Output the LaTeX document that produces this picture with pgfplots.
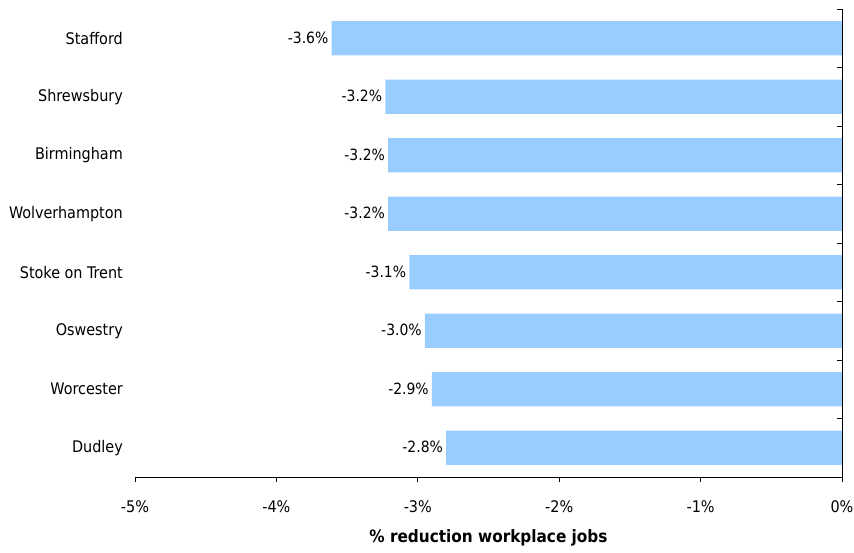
\documentclass[border=0pt]{standalone}
\usepackage{pgfplots}
\pgfplotsset{compat=1.18}
\usepackage{fontspec}
\setmainfont{DejaVu Sans Condensed}
\definecolor{barblue}{HTML}{99CCFF}
\begin{document}
\begin{tikzpicture}[x=1pt,y=1pt]
\useasboundingbox (0,0) rectangle (854,552);
\begin{axis}[
  at={(135pt,75pt)}, anchor=south west,
  scale only axis, width=707pt, height=468pt,
  xbar, bar width=0.583,
  xmin=-5, xmax=0, ymin=-0.5, ymax=7.5,
  y dir=reverse,
  axis x line*=bottom,
  axis y line=none,
  xtick={-5,-4,-3,-2,-1,0},
  xticklabel={\pgfmathprintnumber{\tick}\%},
  /pgf/number format/assume math mode=true,
  x tick style={black, line width=0.8pt},
  tick align=outside,
  major tick length=5pt,
  x axis line style={black, line width=0.8pt},
  xticklabel style={font=\fontsize{16}{18}\selectfont, yshift=-15pt},
  xlabel={\textbf{\% reduction workplace jobs}},
  xlabel style={font=\fontsize{17}{20}\selectfont, yshift=-10pt},
  ytick=\empty,
  clip=false,
  nodes near coords={\pgfmathprintnumber[fixed,precision=1,zerofill]{\pgfplotspointmeta}\%},
  point meta=x,
  nodes near coords style={anchor=east, font=\fontsize{15.5}{18}\selectfont, inner sep=3pt, yshift=0.5pt},
]
\addplot[fill=barblue, draw=none] coordinates {
 (-3.61,0) (-3.23,1) (-3.21,2) (-3.21,3) (-3.06,4) (-2.95,5) (-2.90,6) (-2.80,7)
};
\draw[black, line width=0.8pt] (axis cs:0,-0.5) -- (axis cs:0,7.5);
\pgfplotsinvokeforeach{-0.5,0.5,1.5,2.5,3.5,4.5,5.5,6.5,7.5}{
  \draw[black, line width=0.8pt] (axis cs:0,#1) -- (axis cs:-0.035,#1);
}
\node[anchor=east, font=\fontsize{16}{18}\selectfont, inner sep=0pt, xshift=-12pt] at (axis cs:-5,0) {Stafford};
\node[anchor=east, font=\fontsize{16}{18}\selectfont, inner sep=0pt, xshift=-12pt] at (axis cs:-5,1) {Shrewsbury};
\node[anchor=east, font=\fontsize{16}{18}\selectfont, inner sep=0pt, xshift=-12pt] at (axis cs:-5,2) {Birmingham};
\node[anchor=east, font=\fontsize{16}{18}\selectfont, inner sep=0pt, xshift=-12pt] at (axis cs:-5,3) {Wolverhampton};
\node[anchor=east, font=\fontsize{16}{18}\selectfont, inner sep=0pt, xshift=-12pt] at (axis cs:-5,4) {Stoke on Trent};
\node[anchor=east, font=\fontsize{16}{18}\selectfont, inner sep=0pt, xshift=-12pt] at (axis cs:-5,5) {Oswestry};
\node[anchor=east, font=\fontsize{16}{18}\selectfont, inner sep=0pt, xshift=-12pt] at (axis cs:-5,6) {Worcester};
\node[anchor=east, font=\fontsize{16}{18}\selectfont, inner sep=0pt, xshift=-12pt] at (axis cs:-5,7) {Dudley};
\end{axis}
\end{tikzpicture}
\end{document}
